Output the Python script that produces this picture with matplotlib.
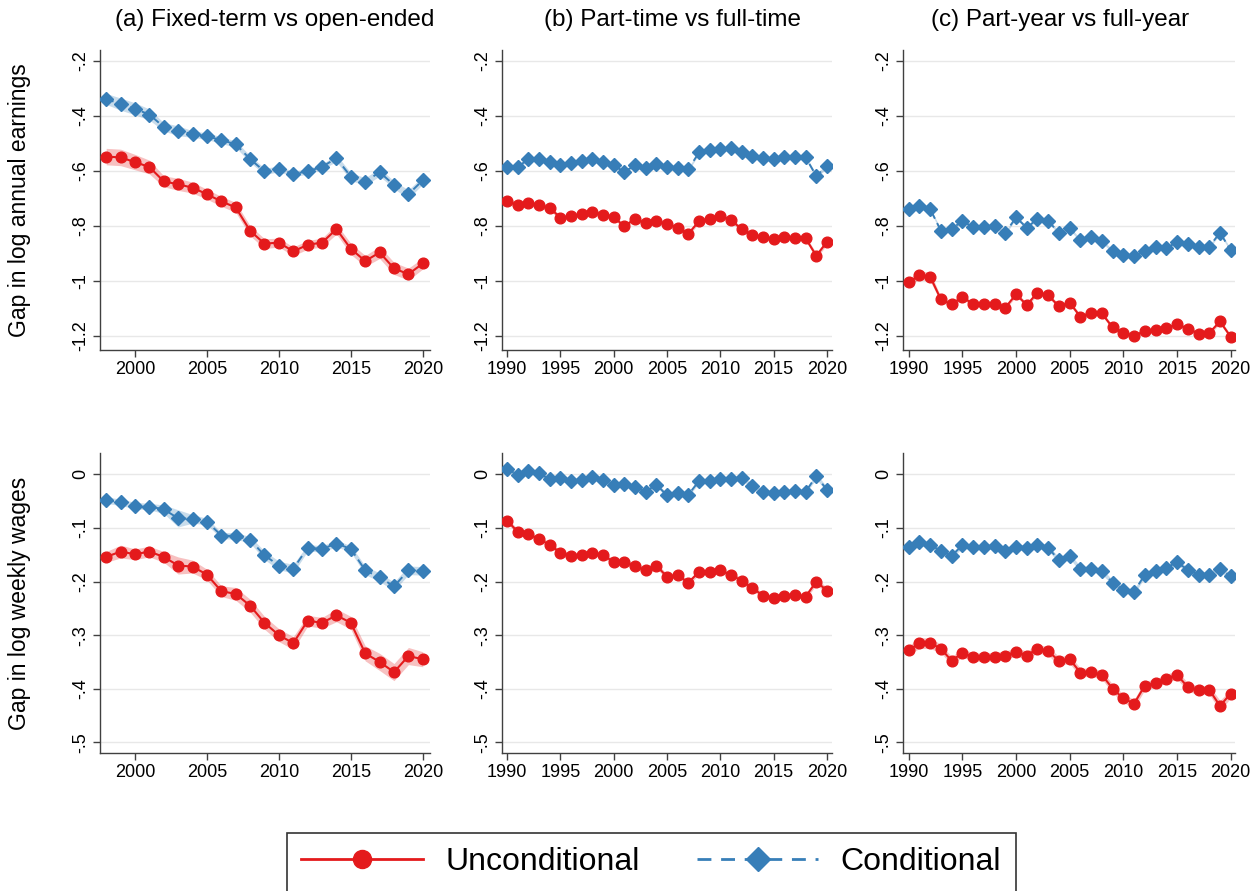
import matplotlib
matplotlib.use("Agg")
import matplotlib.pyplot as plt
from matplotlib.lines import Line2D
import numpy as np

plt.rcParams["font.family"] = ["Liberation Sans", "DejaVu Sans"]

# ---------------------------------------------------------------- data
years_a = list(range(1998, 2021))
years_bc = list(range(1990, 2021))

# Top row: gap in log annual earnings
earn_a_uncond = [-0.548, -0.551, -0.568, -0.586, -0.638, -0.649, -0.661, -0.685, -0.711, -0.733,
                 -0.818, -0.865, -0.861, -0.893, -0.869, -0.861, -0.812, -0.884, -0.928, -0.897,
                 -0.955, -0.976, -0.937]
earn_a_cond = [-0.338, -0.357, -0.374, -0.395, -0.440, -0.454, -0.466, -0.474, -0.488, -0.503,
               -0.557, -0.602, -0.593, -0.611, -0.602, -0.585, -0.554, -0.621, -0.639, -0.605,
               -0.651, -0.685, -0.634]
earn_a_uncond_ci = [0.030, 0.030, 0.028, 0.025, 0.020, 0.022, 0.020, 0.018, 0.018, 0.018,
                    0.018, 0.018, 0.016, 0.016, 0.016, 0.016, 0.018, 0.020, 0.020, 0.022,
                    0.022, 0.022, 0.020]
earn_a_cond_ci = [0.020, 0.022, 0.022, 0.020, 0.015, 0.018, 0.012, 0.012, 0.012, 0.012,
                  0.012, 0.012, 0.010, 0.010, 0.010, 0.010, 0.012, 0.014, 0.014, 0.014,
                  0.014, 0.016, 0.014]

earn_b_uncond = [-0.711, -0.724, -0.718, -0.725, -0.735, -0.770, -0.766, -0.757, -0.749, -0.759,
                 -0.768, -0.802, -0.774, -0.791, -0.783, -0.793, -0.807, -0.829, -0.783, -0.774,
                 -0.763, -0.779, -0.812, -0.833, -0.842, -0.848, -0.839, -0.843, -0.846, -0.909,
                 -0.858]
earn_b_cond = [-0.587, -0.586, -0.557, -0.556, -0.568, -0.580, -0.570, -0.565, -0.556, -0.568,
               -0.580, -0.604, -0.579, -0.591, -0.576, -0.585, -0.588, -0.594, -0.533, -0.524,
               -0.519, -0.517, -0.531, -0.546, -0.554, -0.557, -0.550, -0.551, -0.551, -0.619,
               -0.581]
earn_b_uncond_ci = [0.010, 0.010, 0.009, 0.009, 0.009, 0.008, 0.008, 0.008, 0.008, 0.008,
                    0.008, 0.008, 0.008, 0.008, 0.008, 0.008, 0.008, 0.008, 0.008, 0.008,
                    0.008, 0.008, 0.008, 0.008, 0.008, 0.008, 0.008, 0.008, 0.008, 0.010,
                    0.010]
earn_b_cond_ci = [0.006, 0.006, 0.006, 0.006, 0.006, 0.006, 0.006, 0.006, 0.006, 0.006,
                  0.006, 0.006, 0.006, 0.006, 0.006, 0.006, 0.006, 0.006, 0.006, 0.006,
                  0.006, 0.006, 0.006, 0.006, 0.006, 0.006, 0.006, 0.006, 0.006, 0.008,
                  0.008]

earn_c_uncond = [-1.005, -0.980, -0.985, -1.068, -1.086, -1.058, -1.086, -1.086, -1.085, -1.098,
                 -1.049, -1.088, -1.043, -1.053, -1.093, -1.080, -1.131, -1.116, -1.119, -1.170,
                 -1.190, -1.200, -1.183, -1.178, -1.173, -1.158, -1.175, -1.192, -1.190, -1.148,
                 -1.204]
earn_c_cond = [-0.739, -0.728, -0.739, -0.818, -0.811, -0.783, -0.804, -0.804, -0.800, -0.826,
               -0.769, -0.807, -0.774, -0.783, -0.825, -0.809, -0.853, -0.841, -0.855, -0.893,
               -0.906, -0.910, -0.891, -0.876, -0.881, -0.859, -0.865, -0.877, -0.876, -0.825,
               -0.889]
earn_c_uncond_ci = [0.012, 0.016, 0.016, 0.010, 0.008, 0.008, 0.008, 0.010, 0.010, 0.008,
                    0.008, 0.008, 0.008, 0.008, 0.008, 0.008, 0.008, 0.008, 0.008, 0.008,
                    0.008, 0.008, 0.008, 0.008, 0.008, 0.008, 0.008, 0.008, 0.008, 0.008,
                    0.008]
earn_c_cond_ci = [0.006, 0.006, 0.006, 0.006, 0.006, 0.006, 0.006, 0.006, 0.006, 0.006,
                  0.006, 0.006, 0.006, 0.006, 0.006, 0.006, 0.006, 0.006, 0.006, 0.006,
                  0.006, 0.006, 0.006, 0.006, 0.006, 0.006, 0.006, 0.006, 0.006, 0.006,
                  0.006]

# Bottom row: gap in log weekly wages
wage_a_uncond = [-0.154, -0.144, -0.149, -0.144, -0.154, -0.170, -0.172, -0.187, -0.218, -0.223,
                 -0.245, -0.277, -0.300, -0.315, -0.273, -0.277, -0.263, -0.277, -0.334, -0.350,
                 -0.369, -0.339, -0.345]
wage_a_cond = [-0.048, -0.052, -0.058, -0.060, -0.065, -0.082, -0.083, -0.088, -0.114, -0.115,
               -0.122, -0.151, -0.170, -0.176, -0.137, -0.139, -0.129, -0.139, -0.179, -0.192,
               -0.209, -0.179, -0.180]
wage_a_uncond_ci = [0.010, 0.012, 0.010, 0.010, 0.010, 0.016, 0.012, 0.010, 0.010, 0.012,
                    0.012, 0.012, 0.012, 0.012, 0.010, 0.010, 0.012, 0.012, 0.014, 0.016,
                    0.016, 0.016, 0.014]
wage_a_cond_ci = [0.006, 0.006, 0.006, 0.006, 0.008, 0.016, 0.008, 0.006, 0.006, 0.006,
                  0.006, 0.008, 0.008, 0.008, 0.006, 0.006, 0.006, 0.006, 0.008, 0.008,
                  0.008, 0.008, 0.008]

wage_b_uncond = [-0.086, -0.107, -0.111, -0.121, -0.131, -0.146, -0.152, -0.151, -0.146, -0.151,
                 -0.163, -0.164, -0.171, -0.179, -0.170, -0.191, -0.188, -0.202, -0.182, -0.183,
                 -0.179, -0.188, -0.198, -0.212, -0.226, -0.230, -0.226, -0.225, -0.228, -0.200,
                 -0.217]
wage_b_cond = [0.011, -0.001, 0.007, 0.002, -0.009, -0.007, -0.012, -0.010, -0.004, -0.010,
               -0.019, -0.018, -0.024, -0.032, -0.019, -0.039, -0.034, -0.038, -0.012, -0.012,
               -0.008, -0.008, -0.007, -0.021, -0.033, -0.035, -0.033, -0.031, -0.032, -0.003,
               -0.029]
wage_b_uncond_ci = [0.005, 0.005, 0.005, 0.005, 0.005, 0.005, 0.005, 0.005, 0.005, 0.005,
                    0.005, 0.005, 0.005, 0.005, 0.005, 0.005, 0.005, 0.005, 0.005, 0.005,
                    0.005, 0.005, 0.005, 0.005, 0.005, 0.005, 0.005, 0.005, 0.005, 0.006,
                    0.006]
wage_b_cond_ci = [0.004, 0.004, 0.004, 0.004, 0.004, 0.004, 0.004, 0.004, 0.004, 0.004,
                  0.004, 0.004, 0.004, 0.004, 0.004, 0.004, 0.004, 0.004, 0.004, 0.004,
                  0.004, 0.004, 0.004, 0.004, 0.004, 0.004, 0.004, 0.004, 0.004, 0.005,
                  0.005]

wage_c_uncond = [-0.328, -0.315, -0.315, -0.325, -0.348, -0.333, -0.341, -0.341, -0.340, -0.338,
                 -0.331, -0.338, -0.325, -0.330, -0.348, -0.345, -0.370, -0.369, -0.374, -0.400,
                 -0.418, -0.428, -0.394, -0.390, -0.381, -0.374, -0.397, -0.403, -0.402, -0.432,
                 -0.409]
wage_c_cond = [-0.135, -0.127, -0.131, -0.143, -0.152, -0.132, -0.136, -0.136, -0.134, -0.142,
               -0.135, -0.137, -0.132, -0.137, -0.160, -0.152, -0.177, -0.176, -0.181, -0.202,
               -0.216, -0.219, -0.187, -0.180, -0.174, -0.164, -0.178, -0.187, -0.187, -0.177,
               -0.190]
wage_c_uncond_ci = [0.008, 0.010, 0.010, 0.008, 0.008, 0.008, 0.008, 0.008, 0.008, 0.008,
                    0.008, 0.008, 0.008, 0.008, 0.008, 0.008, 0.008, 0.008, 0.008, 0.008,
                    0.008, 0.008, 0.008, 0.008, 0.008, 0.008, 0.008, 0.008, 0.008, 0.010,
                    0.008]
wage_c_cond_ci = [0.005, 0.005, 0.005, 0.005, 0.005, 0.005, 0.005, 0.005, 0.005, 0.005,
                  0.005, 0.005, 0.005, 0.005, 0.005, 0.005, 0.005, 0.005, 0.005, 0.005,
                  0.005, 0.005, 0.005, 0.005, 0.005, 0.005, 0.005, 0.005, 0.005, 0.005,
                  0.005]

panel_titles = ["(a) Fixed-term vs open-ended", "(b) Part-time vs full-time",
                "(c) Part-year vs full-year"]
row_labels = ["Gap in log annual earnings", "Gap in log weekly wages"]
legend_labels = ["Unconditional", "Conditional"]

earn_ticks = [-0.2, -0.4, -0.6, -0.8, -1.0, -1.2]
earn_ticklabels = ["-.2", "-.4", "-.6", "-.8", "-1", "-1.2"]
wage_ticks = [0.0, -0.1, -0.2, -0.3, -0.4, -0.5]
wage_ticklabels = ["0", "-.1", "-.2", "-.3", "-.4", "-.5"]
xticks_a = [2000, 2005, 2010, 2015, 2020]
xticks_bc = [1990, 1995, 2000, 2005, 2010, 2015, 2020]

# ---------------------------------------------------------------- style
RED = "#E41A1C"
BLUE = "#377EB8"
W, H = 1259, 891

fig = plt.figure(figsize=(W / 100, H / 100), dpi=100)


def px_axes(x0, y0, x1, y1):
    return fig.add_axes([x0 / W, 1 - y1 / H, (x1 - x0) / W, (y1 - y0) / H])


col_px = [(100, 430), (502, 832), (903, 1235)]
row_px = [(50, 350), (453, 753)]
xlims = [(1997.57, 2020.5), (1989.53, 2020.47), (1989.47, 2020.4)]

rows = [
    [(years_a, earn_a_uncond, earn_a_uncond_ci, earn_a_cond, earn_a_cond_ci),
     (years_bc, earn_b_uncond, earn_b_uncond_ci, earn_b_cond, earn_b_cond_ci),
     (years_bc, earn_c_uncond, earn_c_uncond_ci, earn_c_cond, earn_c_cond_ci)],
    [(years_a, wage_a_uncond, wage_a_uncond_ci, wage_a_cond, wage_a_cond_ci),
     (years_bc, wage_b_uncond, wage_b_uncond_ci, wage_b_cond, wage_b_cond_ci),
     (years_bc, wage_c_uncond, wage_c_uncond_ci, wage_c_cond, wage_c_cond_ci)],
]
ylims = [(-1.252, -0.16), (-0.52, 0.04)]
yticks = [(earn_ticks, earn_ticklabels), (wage_ticks, wage_ticklabels)]

for r, (y0, y1) in enumerate(row_px):
    for c, (x0, x1) in enumerate(col_px):
        ax = px_axes(x0, y0, x1, y1)
        yrs, un, un_ci, co, co_ci = rows[r][c]
        x = np.array(yrs)
        un, un_ci = np.array(un), np.array(un_ci)
        co, co_ci = np.array(co), np.array(co_ci)

        # confidence bands
        ax.fill_between(x, co - co_ci, co + co_ci, color=BLUE, alpha=0.27, lw=0, zorder=2)
        ax.fill_between(x, un - un_ci, un + un_ci, color=RED, alpha=0.27, lw=0, zorder=2)
        # point estimates
        ax.plot(x, co, color=BLUE, lw=1.4, ls=(0, (4, 2.5)), marker="D", ms=7.5,
                mec=BLUE, mfc=BLUE, zorder=3)
        ax.plot(x, un, color=RED, lw=1.5, ls="-", marker="o", ms=7.7,
                mec=RED, mfc=RED, zorder=4)

        ax.set_xlim(*xlims[c])
        ax.set_ylim(*ylims[r])
        ax.set_xticks(xticks_a if c == 0 else xticks_bc)
        ticks, labels = yticks[r]
        ax.set_yticks(ticks)
        ax.set_yticklabels(labels, rotation=90, va="center")
        ax.grid(axis="y", color="#E8E8E8", lw=1.0, zorder=0)
        ax.set_axisbelow(True)
        for s in ("top", "right"):
            ax.spines[s].set_visible(False)
        for s in ("left", "bottom"):
            ax.spines[s].set_color("#404040")
            ax.spines[s].set_linewidth(1.0)
        ax.tick_params(axis="both", direction="out", length=5, width=1.0,
                       color="#404040", labelsize=13, labelcolor="black")
        ax.tick_params(axis="x", pad=3)
        ax.tick_params(axis="y", pad=3)

# panel titles and row labels
title_x = [275, 673, 1060]
for t, tx in zip(panel_titles, title_x):
    fig.text(tx / W, 1 - 20 / H, t, ha="center", va="center", fontsize=17.5)
for lab, cy in zip(row_labels, [200, 603]):
    fig.text(20 / W, 1 - cy / H, lab, ha="center", va="center", rotation=90, fontsize=16.5)

handles = [
    Line2D([], [], color=RED, lw=2.0, ls="-", marker="o", ms=13, mec=RED, mfc=RED),
    Line2D([], [], color=BLUE, lw=2.0, ls=(0, (5, 3.5)), marker="D", ms=12, mec=BLUE, mfc=BLUE),
]
leg = fig.legend(handles, legend_labels, loc="upper left",
                 bbox_to_anchor=(287 / W, 1 - 833 / H), ncol=2, numpoints=1,
                 fontsize=23, frameon=True, fancybox=False, edgecolor="black",
                 handlelength=3.8, handletextpad=0.7, columnspacing=1.8,
                 borderpad=0.45, borderaxespad=0)
leg.get_frame().set_linewidth(1.2)

fig.savefig("out.png", dpi=100)
